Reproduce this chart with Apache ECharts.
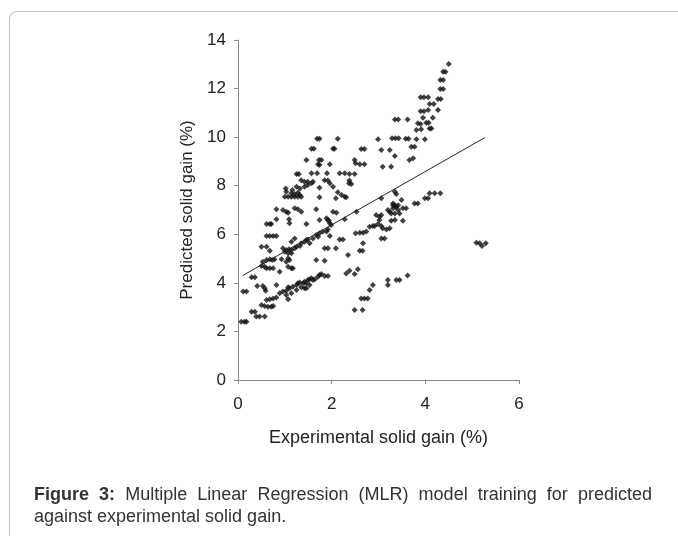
<!DOCTYPE html>
<html>
<head>
<meta charset="utf-8">
<script src="https://cdn.jsdelivr.net/npm/echarts@6/dist/echarts.min.js"></script>
<style>
  html, body { margin: 0; padding: 0; background: #fff; }
  #wrap { position: relative; width: 678px; height: 536px; overflow: hidden; }
  #frame { position: absolute; left: 9px; top: 11px; width: 700px; height: 560px;
           border-top: 1px solid #c4c4c4; border-left: 1px solid #c4c4c4; border-top-left-radius: 8px; }
  #chart { position: absolute; left: 0; top: 0; width: 678px; height: 536px; }
  #caption { position: absolute; left: 34px; top: 483px; width: 618px; font-family: "Liberation Sans", Arial, sans-serif;
             font-size: 18px; line-height: 22px; color: #333; text-align: justify; }
</style>
</head>
<body>
<div id="wrap">
  <div id="frame"></div>
  <div id="chart"></div>
  <div id="caption"><b>Figure 3:</b> Multiple Linear Regression (MLR) model training for predicted against experimental solid gain.</div>
</div>
<script>
const xTicks = [0, 2, 4, 6];
const yTicks = [0, 2, 4, 6, 8, 10, 12, 14];
const xAxisName = 'Experimental solid gain (%)';
const yAxisName = 'Predicted solid gain (%)';

// Observed points [experimental, predicted]
const upperPoints = [
  [4.50,13.01],[4.38,12.69],[4.43,12.69],[4.32,12.35],[4.38,12.35],[4.32,11.98],[4.38,11.98],[4.27,11.57],[4.33,11.57],
  [3.90,11.64],[3.97,11.64],[4.06,11.64],[4.09,11.36],[4.18,11.36],[3.90,11.07],[3.97,11.07],[4.06,11.12],[4.27,11.12],
  [4.16,10.80],[3.95,10.80],[3.84,10.57],[3.90,10.54],[4.02,10.59],[4.07,10.59],[3.81,10.29],[3.91,10.32],[4.09,10.36],[4.13,10.36],
  [3.35,10.73],[3.42,10.73],[3.62,10.73],[3.99,9.91],[3.81,9.91],[3.58,9.93],[3.64,9.93],[3.29,9.95],[3.36,9.95],[3.43,9.95],
  [2.99,9.91],[3.70,9.60],[3.77,9.60],[3.06,9.47],[3.24,9.47],[3.66,9.06],[3.74,9.13],[3.35,9.22],[3.09,8.78],[3.27,8.78],
  [2.63,9.51],[2.70,9.51],[2.49,9.06],[2.51,8.92],[2.60,8.88],[2.70,8.88],
  [1.69,9.93],[1.74,9.93],[2.13,9.93],[1.57,9.52],[1.62,9.52],[2.03,9.52],[2.06,9.52],[1.46,9.06],
  [1.73,9.06],[1.78,9.06],[1.71,8.88],[1.74,8.85],[1.96,8.88],[1.25,8.48],[1.30,8.48],[1.57,8.51],[1.69,8.51],[1.90,8.51],
  [2.17,8.51],[2.28,8.51],[2.38,8.48],[2.49,8.48],[1.35,8.23],[1.42,8.16],[1.49,8.16],[1.57,8.10],[1.60,8.16],
  [1.85,8.23],[1.92,8.21],[1.96,8.10],[2.38,8.21],[2.42,8.07],[2.37,8.10],[1.25,7.96],[1.32,7.89],[1.42,7.96],[1.49,8.03],
  [1.74,7.92],[2.03,7.96],[1.03,7.75],[1.14,7.69],[1.21,7.66],[1.28,7.71],[1.32,7.62],[1.16,7.82],[1.02,7.89],
  [2.13,7.73],[2.21,7.62],[2.28,7.55],[2.31,7.52],
  [1.00,7.55],[1.07,7.55],[1.14,7.55],[1.21,7.55],[1.28,7.55],[1.35,7.55],[1.74,7.52],[2.09,7.48]
];
const middlePoints = [
  [3.35,7.75],[3.38,7.66],[3.06,7.48],[4.09,7.69],[4.20,7.69],[4.32,7.69],[3.99,7.48],[4.06,7.48],[3.77,7.27],[3.84,7.27],
  [3.31,7.27],[3.42,7.20],[3.36,7.13],[3.49,7.41],[3.35,6.86],[3.31,7.20],[3.02,6.59],[3.27,6.56],
  [0.82,7.03],[0.96,7.00],[1.03,6.93],[1.07,6.89],[1.21,7.07],[1.28,7.03],[1.35,6.93],[1.67,7.03],[2.03,6.93],[2.10,6.89],[2.53,6.93],
  [0.61,6.42],[0.68,6.42],[0.71,6.42],[0.82,6.62],[1.09,6.62],[1.10,6.45],[1.46,6.42],
  [1.74,6.59],[1.89,6.66],[1.92,6.59],[1.96,6.45],[1.99,6.38],[1.94,6.56],[2.28,6.62],
  [0.61,5.93],[0.68,5.93],[0.75,5.93],[0.82,5.93],[1.21,5.83],[1.14,5.69],
  [0.96,5.42],[1.03,5.35],[1.09,5.38],[1.14,5.35],[1.21,5.42],[1.25,5.49],[1.32,5.52],[1.35,5.63],[1.42,5.69],[1.46,5.76],
  [1.49,5.79],[1.53,5.63],[1.60,5.83],[1.67,5.97],[1.71,5.90],[1.74,6.04],[1.81,6.11],[1.89,6.11],[1.96,5.93],[1.92,6.20],
  [2.17,5.79],[2.24,5.79],[2.51,6.04],[2.60,6.06],[2.67,6.06],[2.74,6.11],
  [2.92,6.34],[2.99,6.42],[3.06,6.34],[3.09,6.25],[3.17,6.20],[3.24,6.25],[2.81,6.31],[2.88,6.34],
  [2.95,6.79],[3.02,6.72],[3.06,6.79],[3.20,7.00],[3.24,6.93],[3.27,6.86],[3.31,7.07],[3.35,7.20],[3.38,7.13],[3.42,7.00],[3.45,6.86],
  [3.52,7.07],[3.59,7.07],[3.35,6.59],[3.52,6.56],[3.06,5.83],[3.13,5.83],
  [0.50,5.49],[0.61,5.49],[0.68,5.32],[1.00,5.28],[1.07,5.22],[1.14,5.22],[1.85,5.42],[1.92,5.42],[2.09,5.42],
  [2.67,5.63],[2.60,5.32],[2.66,5.32],[2.35,5.15],
  [5.09,5.65],[5.16,5.63],[5.21,5.52],[5.29,5.63]
];
const lowerPoints = [
  [0.61,4.94],[0.68,4.97],[0.73,4.94],[0.78,4.97],[0.50,4.69],[0.57,4.66],[0.61,4.60],[0.68,4.60],[0.75,4.60],
  [1.07,5.01],[1.10,4.94],[1.03,4.87],[1.07,4.66],[1.14,4.60],[1.17,4.60],[0.53,4.87],[1.67,4.94],[1.85,4.91],[0.93,4.97],
  [0.89,4.46],[0.29,4.23],[0.36,4.23],[2.31,4.39],[2.38,4.50],[2.49,4.36],[2.56,4.56],
  [0.11,3.64],[0.18,3.64],[0.41,3.87],[0.53,3.87],[0.57,3.78],[0.59,3.68],[0.82,3.91],
  [0.61,3.29],[0.68,3.32],[0.75,3.36],[0.82,3.40],
  [0.89,3.57],[0.96,3.64],[1.03,3.68],[1.07,3.82],[1.10,3.78],[1.17,3.84],[1.25,3.91],[1.28,3.98],[1.32,4.01],[1.39,3.98],
  [1.42,4.05],[1.46,3.98],[1.49,4.12],[1.53,4.15],[1.57,4.19],[1.60,4.12],[1.64,4.15],[1.71,4.25],[1.74,4.32],[1.78,4.36],
  [1.85,4.28],[1.92,4.28],[1.07,3.32],[1.03,3.50],[1.14,3.57],[1.25,3.71],[1.35,3.82],[1.42,3.78],[1.46,3.78],[1.53,3.91],
  [0.29,2.81],[0.36,2.81],[0.39,2.61],[0.46,2.61],[0.57,2.61],[0.50,3.09],[0.57,3.05],[0.64,3.02],[0.71,3.02],[0.75,3.05],
  [0.07,2.40],[0.14,2.40],[0.18,2.40],
  [2.49,2.88],[2.66,2.88],[2.63,3.36],[2.70,3.36],[2.77,3.36],[2.81,3.71],[2.88,3.91],
  [3.20,4.12],[3.20,3.91],[3.38,4.12],[3.45,4.12],[3.62,4.30]
];
// Fitted regression line endpoints
const fitLine = [[0.10, 4.30], [5.27, 9.98]];

const allPoints = upperPoints.concat(middlePoints, lowerPoints);
const font = '"Liberation Sans", Arial, sans-serif';

const chart = echarts.init(document.getElementById('chart'), null, { renderer: 'canvas' });
chart.setOption({
  animation: false,
  backgroundColor: 'transparent',
  grid: { left: 238, top: 40, right: 159, bottom: 156, containLabel: false },
  xAxis: {
    type: 'value', min: xTicks[0], max: xTicks[xTicks.length - 1], interval: 2,
    name: xAxisName, nameLocation: 'middle', nameGap: 49,
    nameTextStyle: { fontFamily: font, fontSize: 18, color: '#222' },
    axisLine: { lineStyle: { color: '#8a8a8a', width: 1 } },
    axisTick: { show: true, inside: false, length: 4, lineStyle: { color: '#8a8a8a' } },
    axisLabel: { fontFamily: font, fontSize: 17, color: '#222', margin: 16 },
    splitLine: { show: false }
  },
  yAxis: {
    type: 'value', min: yTicks[0], max: yTicks[yTicks.length - 1], interval: 2,
    name: yAxisName, nameLocation: 'middle', nameGap: 42,
    nameTextStyle: { fontFamily: font, fontSize: 17, color: '#222' },
    axisLine: { show: true, lineStyle: { color: '#8a8a8a', width: 1 } },
    axisTick: { show: true, inside: false, length: 4, lineStyle: { color: '#8a8a8a' } },
    axisLabel: { fontFamily: font, fontSize: 17, color: '#222', margin: 12 },
    splitLine: { show: false }
  },
  series: [
    {
      type: 'scatter', data: allPoints, symbol: 'diamond', symbolSize: [6, 6],
      itemStyle: { color: '#111' }, silent: true
    },
    {
      type: 'line', data: fitLine, showSymbol: false, symbol: 'none',
      lineStyle: { color: '#222', width: 1 }, silent: true, z: 3
    }
  ]
});
</script>
</body>
</html>
